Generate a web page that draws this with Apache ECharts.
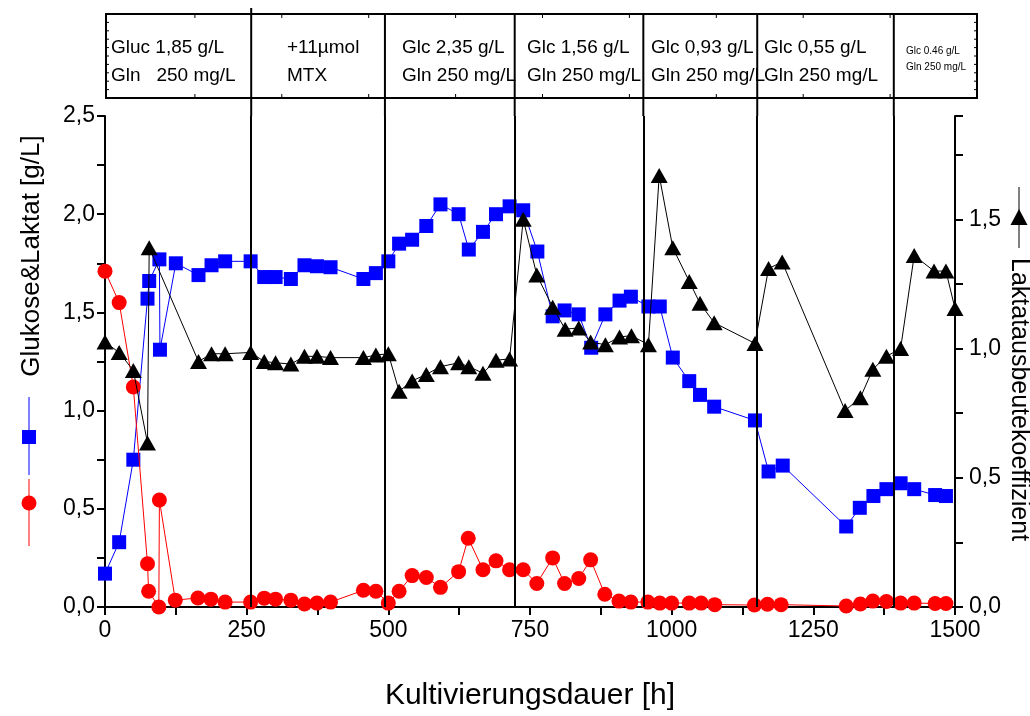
<!DOCTYPE html>
<html>
<head>
<meta charset="utf-8">
<script src="https://cdn.jsdelivr.net/npm/echarts@6/dist/echarts.min.js"></script>
<style>
  html, body { margin: 0; padding: 0; background: #ffffff; }
  #chart { width: 1030px; height: 716px; }
</style>
</head>
<body>
<div id="chart"></div>
<script>
// Glucose concentration [g/L] (blue squares, left axis)
const glcHours = [0, 25, 50, 75, 78, 96, 97, 125, 165, 188, 212, 257, 281, 301, 328, 352, 374, 398, 456, 478,
  500, 519, 542, 567, 592, 624, 642, 667, 690, 714, 738, 763, 790, 811, 836, 858, 883, 908, 928, 959,
  979, 1002, 1031, 1050, 1075, 1147, 1171, 1196, 1308, 1332, 1356, 1379, 1404, 1428, 1465, 1484];
const glcValues = [0.17, 0.33, 0.75, 1.57, 1.66, 1.77, 1.31, 1.75, 1.69, 1.74, 1.76, 1.76, 1.68, 1.68, 1.67, 1.74, 1.735, 1.73, 1.67, 1.70,
  1.76, 1.85, 1.87, 1.94, 2.05, 2.00, 1.82, 1.91, 2.00, 2.04, 2.02, 1.81, 1.48, 1.51, 1.49, 1.32, 1.49, 1.56, 1.58, 1.53,
  1.53, 1.27, 1.15, 1.08, 1.02, 0.95, 0.69, 0.72, 0.41, 0.505, 0.565, 0.60, 0.63, 0.60, 0.57, 0.565];

// Lactate concentration [g/L] (red circles, left axis)
const lacHours = [0, 25, 50, 75, 77, 95, 96, 124, 164, 187, 212, 257, 281, 301, 328, 352, 374, 398, 456, 478,
  500, 519, 542, 567, 592, 624, 641, 667, 690, 714, 738, 762, 790, 811, 836, 857, 882, 907, 928, 958,
  979, 1000, 1031, 1052, 1076, 1146, 1169, 1193, 1308, 1333, 1355, 1379, 1404, 1428, 1465, 1484];
const lacValues = [1.71, 1.55, 1.12, 0.22, 0.08, 0.0, 0.545, 0.035, 0.046, 0.04, 0.025, 0.025, 0.045, 0.04, 0.035, 0.015, 0.02, 0.025, 0.085, 0.08,
  0.02, 0.08, 0.16, 0.15, 0.10, 0.18, 0.35, 0.19, 0.235, 0.19, 0.19, 0.12, 0.25, 0.12, 0.145, 0.24, 0.065, 0.03, 0.025, 0.025,
  0.02, 0.02, 0.02, 0.02, 0.012, 0.01, 0.014, 0.012, 0.005, 0.015, 0.03, 0.028, 0.02, 0.02, 0.018, 0.018];

// Lactate yield coefficient (black triangles, right axis)
const yieldHours = [0, 25, 50, 75, 78, 165, 188, 212, 257, 281, 301, 328, 352, 374, 398, 456, 478, 500, 519, 542,
  567, 592, 624, 642, 667, 690, 714, 738, 762, 790, 812, 836, 857, 883, 908, 929, 959, 978, 1002, 1031,
  1050, 1075, 1147, 1171, 1195, 1306, 1333, 1355, 1379, 1404, 1428, 1463, 1484, 1500];
const yieldValues = [1.025, 0.985, 0.915, 0.635, 1.39, 0.95, 0.98, 0.98, 0.985, 0.95, 0.945, 0.94, 0.97, 0.97, 0.965, 0.965, 0.975, 0.98, 0.835, 0.875,
  0.90, 0.93, 0.945, 0.93, 0.905, 0.955, 0.96, 1.50, 1.285, 1.16, 1.075, 1.08, 1.025, 1.015, 1.045, 1.05, 1.015, 1.67, 1.39, 1.26,
  1.175, 1.10, 1.02, 1.31, 1.335, 0.76, 0.81, 0.92, 0.97, 1.0, 1.36, 1.30, 1.30, 1.155];

// Medium changes (hours) separating the feeding phases
const phaseBounds = [258, 494, 723, 950, 1151, 1392];
// Feed composition of each phase, written in the header strip
const phaseLines1 = ['Gluc 1,85 g/L', '+11\u00b5mol', 'Glc 2,35 g/L', 'Glc 1,56 g/L', 'Glc 0,93 g/L', 'Glc 0,55 g/L', 'Glc 0.46 g/L'];
const phaseLines2 = ['Gln   250 mg/L', 'MTX', 'Gln 250 mg/L', 'Gln 250 mg/L', 'Gln 250 mg/L', 'Gln 250 mg/L', 'Gln 250 mg/L'];

const FONT = '"Liberation Sans", Arial, Helvetica, sans-serif';
const comma = v => v.toFixed(1).replace('.', ',');
const pairs = (xs, ys) => xs.map((x, i) => [x, ys[i]]);

const chart = echarts.init(document.getElementById('chart'), null, { renderer: 'canvas' });

const axisCommon = {
  axisLine: { show: true, onZero: false, lineStyle: { color: '#000', width: 2 } },
  axisTick: { show: true, inside: false, length: 8, lineStyle: { color: '#000', width: 2 } },
  splitLine: { show: false },
  axisLabel: { color: '#000', fontSize: 23, fontFamily: FONT }
};

chart.setOption({
  animation: false,
  backgroundColor: '#ffffff',
  grid: { left: 105, right: 75, top: 116, bottom: 94 },
  xAxis: Object.assign({}, axisCommon, {
    type: 'value', min: 0, max: 1500, interval: 125,
    name: 'Kultivierungsdauer [h]', nameLocation: 'middle', nameGap: 74,
    nameTextStyle: { color: '#000', fontSize: 30, fontFamily: FONT },
    axisLabel: Object.assign({}, axisCommon.axisLabel, {
      margin: 12,
      formatter: v => (v % 250 === 0 ? String(v) : '')
    })
  }),
  yAxis: [
    Object.assign({}, axisCommon, {
      type: 'value', min: 0, max: 2.5, interval: 0.25, position: 'left',
      axisLabel: Object.assign({}, axisCommon.axisLabel, {
        margin: 10,
        formatter: v => (Math.abs(v * 2 - Math.round(v * 2)) < 1e-6 ? comma(v) : '')
      })
    }),
    Object.assign({}, axisCommon, {
      type: 'value', min: 0, max: 1.9, interval: 0.25, position: 'right',
      axisLabel: Object.assign({}, axisCommon.axisLabel, {
        margin: 14,
        formatter: v => (Math.abs(v * 2 - Math.round(v * 2)) < 1e-6 ? comma(v) : '')
      })
    })
  ],
  series: [
    {
      name: 'Glukose', type: 'line', yAxisIndex: 0, data: pairs(glcHours, glcValues),
      symbol: 'rect', symbolSize: 14, showAllSymbol: true, clip: false,
      lineStyle: { color: '#0000ff', width: 1 },
      itemStyle: { color: '#0000ff' },
      emphasis: { disabled: true },
      markLine: {
        silent: true, symbol: 'none', animation: false,
        label: { show: false },
        emphasis: { disabled: true },
        lineStyle: { color: '#000', width: 2, type: 'solid' },
        data: phaseBounds.map(v => ({ xAxis: v }))
      },
      z: 2
    },
    {
      name: 'Laktat', type: 'line', yAxisIndex: 0, data: pairs(lacHours, lacValues),
      symbol: 'circle', symbolSize: 15, showAllSymbol: true, clip: false,
      lineStyle: { color: '#ff0000', width: 1 },
      itemStyle: { color: '#ff0000' },
      emphasis: { disabled: true },
      z: 3
    },
    {
      name: 'Laktatausbeutekoeffizient', type: 'line', yAxisIndex: 1, data: pairs(yieldHours, yieldValues),
      symbol: 'triangle', symbolSize: [17, 15], showAllSymbol: true, clip: false,
      lineStyle: { color: '#000', width: 1 },
      itemStyle: { color: '#000' },
      emphasis: { disabled: true },
      z: 4
    }
  ]
});

// Header strip with the feed composition of each phase; its dividers continue the phase lines
const boxTop = 14, boxBottom = 98, boxLeft = 106, boxRight = 977;
const gridTop = 116;
const divX = phaseBounds.map(v => chart.convertToPixel({ xAxisIndex: 0 }, v));
const black = { stroke: '#000', lineWidth: 2 };
const g = [];

g.push({ type: 'rect', shape: { x: boxLeft, y: boxTop, width: boxRight - boxLeft, height: boxBottom - boxTop },
  style: { fill: 'none', stroke: '#000', lineWidth: 2 }, silent: true });
divX.forEach((x, i) => {
  g.push({ type: 'line', shape: { x1: x, y1: i === 0 ? 8 : boxTop, x2: x, y2: gridTop }, style: black, silent: true });
});
// small ticks of the header frame
for (let k = 1; k < 10; k++) {
  const x = 108 + k * 86.9;
  g.push({ type: 'line', shape: { x1: x, y1: boxTop, x2: x, y2: boxTop + 4 }, style: { stroke: '#000', lineWidth: 1 }, silent: true });
  g.push({ type: 'line', shape: { x1: x, y1: boxBottom, x2: x, y2: boxBottom - 4 }, style: { stroke: '#000', lineWidth: 1 }, silent: true });
}
for (let y = boxTop + 8.4; y < boxBottom - 2; y += 8.4) {
  g.push({ type: 'line', shape: { x1: boxLeft, y1: y, x2: boxLeft + 3, y2: y }, style: { stroke: '#000', lineWidth: 1 }, silent: true });
  g.push({ type: 'line', shape: { x1: boxRight, y1: y, x2: boxRight - 3, y2: y }, style: { stroke: '#000', lineWidth: 1 }, silent: true });
}
const textX = [111, 287, 402, 527, 651, 764, 906];
phaseLines1.forEach((t, i) => {
  const small = i === phaseLines1.length - 1;
  const fs = small ? 10 : 19;
  g.push({ type: 'text', x: textX[i], y: small ? 51 : 48, silent: true,
    style: { text: t, fill: '#000', font: fs + 'px ' + FONT, textAlign: 'left', textVerticalAlign: 'middle' } });
  g.push({ type: 'text', x: textX[i], y: small ? 67 : 76, silent: true,
    style: { text: phaseLines2[i], fill: '#000', font: fs + 'px ' + FONT, textAlign: 'left', textVerticalAlign: 'middle' } });
});

// Left axis title with its two legend keys
g.push({ type: 'text', x: 32, y: 256, rotation: Math.PI / 2, silent: true,
  style: { text: 'Glukose&Laktat [g/L]', fill: '#000', font: '26px ' + FONT, textAlign: 'center', textVerticalAlign: 'middle' } });
g.push({ type: 'line', shape: { x1: 29, y1: 397, x2: 29, y2: 475 }, style: { stroke: '#0000ff', lineWidth: 1 }, silent: true });
g.push({ type: 'rect', shape: { x: 22, y: 430, width: 14, height: 14 }, style: { fill: '#0000ff' }, silent: true });
g.push({ type: 'line', shape: { x1: 29, y1: 479, x2: 29, y2: 546 }, style: { stroke: '#ff0000', lineWidth: 1 }, silent: true });
g.push({ type: 'circle', shape: { cx: 29, cy: 503, r: 7.5 }, style: { fill: '#ff0000' }, silent: true });

// Right axis title with its legend key
g.push({ type: 'line', shape: { x1: 1019, y1: 187, x2: 1019, y2: 248 }, style: { stroke: '#000', lineWidth: 1 }, silent: true });
g.push({ type: 'polygon', shape: { points: [[1019, 209], [1027.5, 225], [1010.5, 225]] }, style: { fill: '#000' }, silent: true });
g.push({ type: 'text', x: 1019, y: 258, rotation: -Math.PI / 2, silent: true,
  style: { text: 'Laktatausbeutekoeffizient', fill: '#000', font: '25px ' + FONT, textAlign: 'left', textVerticalAlign: 'middle' } });

chart.setOption({ graphic: { elements: g } });
</script>
</body>
</html>
